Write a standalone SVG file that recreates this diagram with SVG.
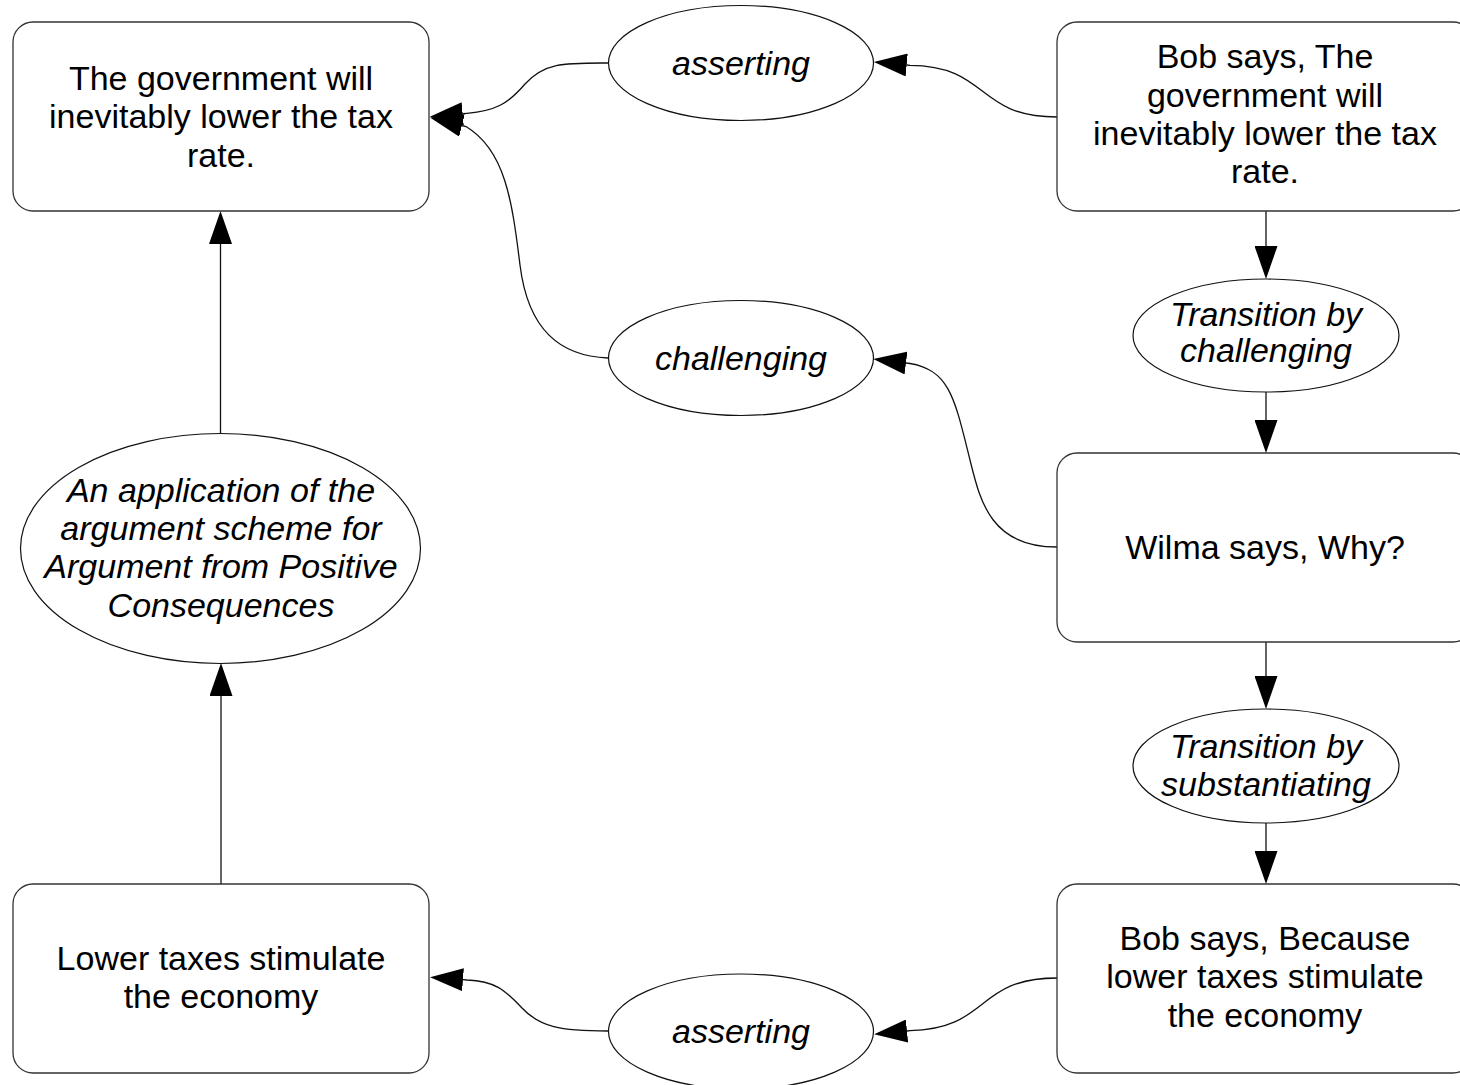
<svg xmlns="http://www.w3.org/2000/svg" width="1460" height="1085" viewBox="0 0 1460 1085">
  <style>
    .box { fill: #ffffff; stroke: #333333; stroke-width: 1.3; }
    .oval { fill: #ffffff; stroke: #111111; stroke-width: 1.2; }
    .edge { fill: none; stroke: #111111; stroke-width: 1.3; }
    text { font-family: "Liberation Sans", Arial, sans-serif; font-size: 34px; fill: #000000; text-anchor: middle; }
    .it { font-style: italic; }
  </style>
  <defs>
    <marker id="arrow" markerUnits="userSpaceOnUse" viewBox="0 0 33 23" refX="0" refY="11.5" markerWidth="33" markerHeight="23" orient="auto">
      <path d="M0,0 L33,11.5 L0,23 z" fill="#000000"/>
    </marker>
  </defs>
  <rect width="1460" height="1085" fill="#ffffff"/>

  <g id="connectors">
    <!-- asserting (top) -> claim box -->
    <path class="edge" marker-end="url(#arrow)" d="M608,63 C565,63 545,62 525,84 C508,104 495,111 467,113.3 L462.7,113.7"/>
    <!-- challenging -> claim box -->
    <path class="edge" marker-end="url(#arrow)" d="M608,358 C560,356 528,330 520,265 C512,200 505,150 466,126.5 L462,125.5"/>
    <!-- Bob statement -> asserting (top) -->
    <path class="edge" marker-end="url(#arrow)" d="M1057,117 C975,117 990,66 910,65.3 L906.7,65"/>
    <!-- Wilma -> challenging -->
    <path class="edge" marker-end="url(#arrow)" d="M1057,547 C990,547 980,500 970,460 C955,400 950,370 910,363.5 L906,363"/>
    <!-- Bob reason -> asserting (bottom) -->
    <path class="edge" marker-end="url(#arrow)" d="M1057,978 C975,978 990,1029 910,1030.7 L907,1031"/>
    <!-- asserting (bottom) -> premise box -->
    <path class="edge" marker-end="url(#arrow)" d="M608,1031 C560,1031 540,1027 522,1008 C505,990 495,981 467,980 L463,979.7"/>
    <!-- scheme -> claim box -->
    <path class="edge" marker-end="url(#arrow)" d="M220.5,433 L220.5,244"/>
    <!-- premise box -> scheme -->
    <path class="edge" marker-end="url(#arrow)" d="M221,884 L221,696"/>
    <!-- dialogue chain down the right column -->
    <path class="edge" marker-end="url(#arrow)" d="M1266,211 L1266,246"/>
    <path class="edge" marker-end="url(#arrow)" d="M1266,392 L1266,420"/>
    <path class="edge" marker-end="url(#arrow)" d="M1266,642 L1266,676"/>
    <path class="edge" marker-end="url(#arrow)" d="M1266,823 L1266,851"/>
  </g>

  <g id="claim">
    <rect class="box" x="13" y="22" width="416" height="189" rx="20" ry="20"/>
    <text x="221" y="90">The government will</text>
    <text x="221" y="128.3">inevitably lower the tax</text>
    <text x="221" y="166.7">rate.</text>
  </g>

  <g id="scheme">
    <ellipse class="oval" cx="220.5" cy="548.5" rx="200" ry="115"/>
    <text class="it" x="221" y="501.7">An application of the</text>
    <text class="it" x="221" y="540">argument scheme for</text>
    <text class="it" x="221" y="578.3">Argument from Positive</text>
    <text class="it" x="221" y="616.6">Consequences</text>
  </g>

  <g id="premise">
    <rect class="box" x="13" y="884" width="416" height="189" rx="20" ry="20"/>
    <text x="221" y="970">Lower taxes stimulate</text>
    <text x="221" y="1008.3">the economy</text>
  </g>

  <g id="asserting-top">
    <ellipse class="oval" cx="741" cy="63" rx="132.5" ry="57.5"/>
    <text class="it" x="741" y="74.5">asserting</text>
  </g>

  <g id="challenging">
    <ellipse class="oval" cx="741" cy="358" rx="132.5" ry="57.5"/>
    <text class="it" x="741" y="369.5">challenging</text>
  </g>

  <g id="asserting-bottom">
    <ellipse class="oval" cx="741" cy="1031.5" rx="132.5" ry="57.5"/>
    <text class="it" x="741" y="1043">asserting</text>
  </g>

  <g id="bob-claim">
    <rect class="box" x="1057" y="22" width="416" height="189" rx="20" ry="20"/>
    <text x="1265" y="68.3">Bob says, The</text>
    <text x="1265" y="106.6">government will</text>
    <text x="1265" y="145">inevitably lower the tax</text>
    <text x="1265" y="183.3">rate.</text>
  </g>

  <g id="transition-challenging">
    <ellipse class="oval" cx="1266" cy="335.5" rx="133" ry="56.5"/>
    <text class="it" x="1266" y="325.5">Transition by</text>
    <text class="it" x="1266" y="362">challenging</text>
  </g>

  <g id="wilma-why">
    <rect class="box" x="1057" y="453" width="416" height="189" rx="20" ry="20"/>
    <text x="1265" y="559">Wilma says, Why?</text>
  </g>

  <g id="transition-substantiating">
    <ellipse class="oval" cx="1266" cy="766" rx="133" ry="57"/>
    <text class="it" x="1266" y="757.5">Transition by</text>
    <text class="it" x="1266" y="796">substantiating</text>
  </g>

  <g id="bob-reason">
    <rect class="box" x="1057" y="884" width="416" height="189" rx="20" ry="20"/>
    <text x="1265" y="950">Bob says, Because</text>
    <text x="1265" y="988.3">lower taxes stimulate</text>
    <text x="1265" y="1026.7">the economy</text>
  </g>
</svg>
